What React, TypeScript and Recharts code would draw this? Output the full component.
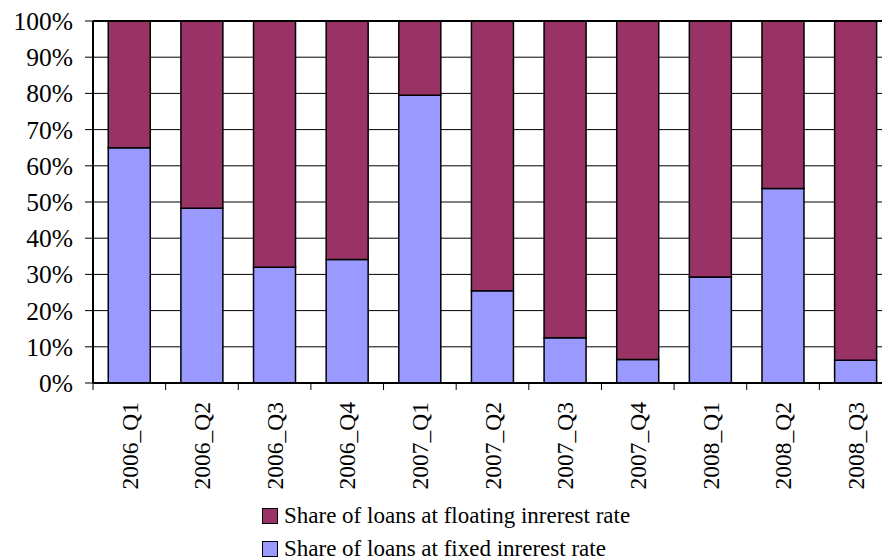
import { Bar, BarChart, CartesianGrid, Legend, ReferenceLine, XAxis, YAxis } from "recharts";

const quarters = [
  "2006_Q1", "2006_Q2", "2006_Q3", "2006_Q4",
  "2007_Q1", "2007_Q2", "2007_Q3", "2007_Q4",
  "2008_Q1", "2008_Q2", "2008_Q3",
];
// shares in percent, fixed + floating = 100
const fixedRate = [65, 48.3, 32, 34.1, 79.5, 25.5, 12.5, 6.5, 29.3, 53.7, 6.3];
const floatingRate = [35, 51.7, 68, 65.9, 20.5, 74.5, 87.5, 93.5, 70.7, 46.3, 93.7];
const yTicks = [0, 10, 20, 30, 40, 50, 60, 70, 80, 90, 100];

const FIXED_LABEL = "Share of loans at fixed inrerest rate";
const FLOATING_LABEL = "Share of loans at floating inrerest rate";
const FIXED_COLOR = "#9999FF";
const FLOATING_COLOR = "#993366";
const FONT = "'Times New Roman', Times, 'Liberation Serif', Tinos, 'Nimbus Roman', 'DejaVu Serif', serif";

const data = quarters.map((q, i) => ({
  quarter: q,
  fixed: fixedRate[i],
  floating: floatingRate[i],
}));

// plot spans x 93..892, so one category band is:
const PLOT_LEFT = 93;
const PLOT_RIGHT = 892;
const BAND = (PLOT_RIGHT - PLOT_LEFT) / quarters.length;

function QuarterTick(props: any) {
  const { x, y, payload } = props;
  const bx = x - BAND / 2;
  const ty = y + 19;
  return (
    <g>
      <line x1={bx} y1={y} x2={bx} y2={y + 7} stroke="#000" strokeWidth={1} />
      <text
        x={x}
        y={ty}
        dy="0.35em"
        textAnchor="end"
        transform={`rotate(-90, ${x}, ${ty})`}
        fontFamily={FONT}
        fontSize={23.5}
        fill="#000"
      >
        {payload.value}
      </text>
    </g>
  );
}

function LegendBox() {
  const rows = [
    { label: FLOATING_LABEL, color: FLOATING_COLOR },
    { label: FIXED_LABEL, color: FIXED_COLOR },
  ];
  return (
    <div style={{ fontFamily: FONT, fontSize: 23, color: "#000", lineHeight: "28px" }}>
      {rows.map((r) => (
        <div key={r.label} style={{ display: "flex", alignItems: "center", height: 33 }}>
          <span
            style={{
              display: "inline-block",
              width: 14,
              height: 14,
              background: r.color,
              border: "1.5px solid #000",
              marginRight: 6,
            }}
          />
          <span style={{ whiteSpace: "nowrap" }}>{r.label}</span>
        </div>
      ))}
    </div>
  );
}

export default function App() {
  return (
    <div style={{ position: "absolute", left: 0, top: 0, width: 882, height: 560, overflow: "hidden", background: "#fff" }}>
      <BarChart
        width={900}
        height={560}
        data={data}
        margin={{ top: 21, right: 900 - PLOT_RIGHT, left: 0, bottom: 77 }}
        barCategoryGap="21%"
      >
        <CartesianGrid vertical={false} stroke="#000" strokeWidth={1} />
        <XAxis
          dataKey="quarter"
          height={100}
          interval={0}
          tickSize={0}
          tickMargin={0}
          tickLine={false}
          axisLine={{ stroke: "#000", strokeWidth: 2 }}
          tick={<QuarterTick />}
        />
        <YAxis
          width={PLOT_LEFT}
          domain={[0, 100]}
          ticks={yTicks}
          tickFormatter={(v) => `${v}%`}
          tickSize={8}
          tickMargin={12}
          axisLine={{ stroke: "#000", strokeWidth: 2 }}
          tickLine={{ stroke: "#000", strokeWidth: 1 }}
          tick={{ fill: "#000", fontFamily: FONT, fontSize: 25.5 }}
        />
        <ReferenceLine y={100} stroke="#000" strokeWidth={2} />
        <Bar
          dataKey="fixed"
          name={FIXED_LABEL}
          stackId="share"
          fill={FIXED_COLOR}
          stroke="#000"
          strokeWidth={1.5}
          isAnimationActive={false}
        />
        <Bar
          dataKey="floating"
          name={FLOATING_LABEL}
          stackId="share"
          fill={FLOATING_COLOR}
          stroke="#000"
          strokeWidth={1.5}
          isAnimationActive={false}
        />
        <Legend
          verticalAlign="middle"
          align="center"
          content={<LegendBox />}
          wrapperStyle={{ top: 499, left: 262, width: 420 }}
        />
      </BarChart>
    </div>
  );
}
